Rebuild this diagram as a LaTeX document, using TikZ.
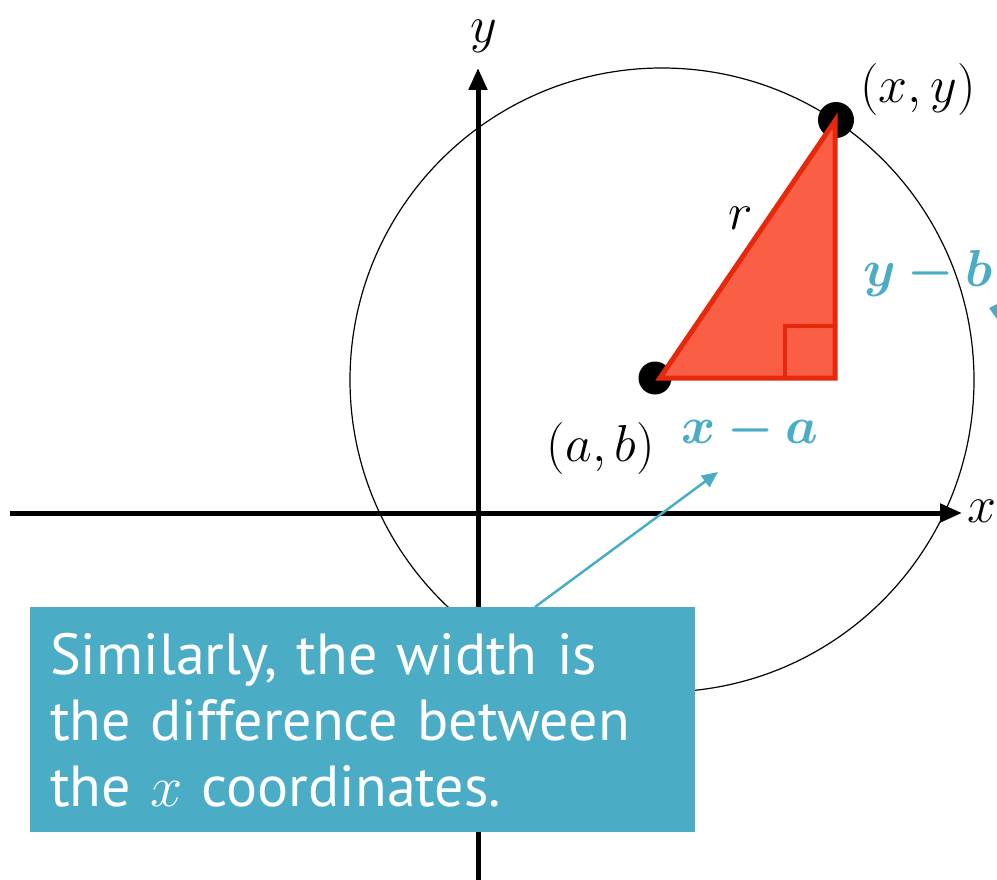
\RequirePackage{fix-cm}
\documentclass[tikz,border=0pt]{standalone}
\usepackage{amsmath,bm}
\usepackage{fontspec}
\newfontfamily\calloutfont{PT Sans}
\usetikzlibrary{arrows.meta}
\definecolor{cyanx}{HTML}{4BACC6}
\definecolor{trifill}{HTML}{FA5F45}
\definecolor{triline}{HTML}{E8280C}
\tikzset{
  axis/.style={line width=5pt, -{Triangle[length=22pt,width=18pt]}},
  dotnode/.style={circle, fill=black, inner sep=0pt},
  mathlab/.style={font=\fontsize{52}{56}\selectfont, inner sep=0pt},
  callout/.style={fill=cyanx, text=white, align=left, anchor=north west,
    text width=625pt, inner xsep=20pt, inner ysep=0pt, minimum height=225pt,
    font=\calloutfont\fontsize{58}{66}\selectfont},
  pointer/.style={draw=cyanx, line width=2.5pt, -{Triangle[length=16pt,width=14pt]}},
}
\begin{document}
\begin{tikzpicture}[x=1pt,y=-1pt]
\useasboundingbox (0,0) rectangle (997,880);
% circle
\draw[line width=1.2pt] (662,380) circle [radius=312pt];
% axes
\coordinate (xl) at (10,513);
\coordinate (xr) at (962,513);
\coordinate (yb) at (478,880);
\coordinate (yt) at (478,68);
\draw[axis] (xl) -- (xr);
\draw[axis] (yb) -- (yt);
\node[mathlab] (labx) at (982,511) {$x$};
\node[mathlab] (laby) at (484,36) {$y$};
% dots
\node[dotnode, minimum size=33pt] (dotA) at (655,378) {};
\node[dotnode, minimum size=36pt] (dotB) at (836,120) {};
% triangle
\coordinate (A) at (660,378);
\coordinate (B) at (835,121);
\coordinate (C) at (835,378);
\draw[fill=trifill, draw=triline, line width=5pt] (A) -- (B) -- (C) -- cycle;
\draw[draw=triline, line width=4pt] (785,378) |- (835,326);
% labels
\node[mathlab] (labxy) at (918,90) {$(x,y)$};
\node[mathlab] (labab) at (601,448) {$(a,b)$};
\node[mathlab] (labr) at (741,218) {$r$};
\node[mathlab, text=cyanx] (labxa) at (750,430) {$\bm{x-a}$};
\node[mathlab, text=cyanx] (labyb) at (928,273) {$\bm{y-b}$};
% fragment of a cut-off arrow at the right edge
\fill[cyanx] (989,308) -- (997,304) -- (997,319) -- cycle;
% callout
\node[callout] (box) at (30,607) {Similarly, the width is\\the difference between\\the $x$ coordinates.};
\coordinate (arrstart) at (535,607);
\coordinate (tipxa) at (718,472);
\draw[pointer] (arrstart) -- (tipxa);
\end{tikzpicture}
\end{document}
